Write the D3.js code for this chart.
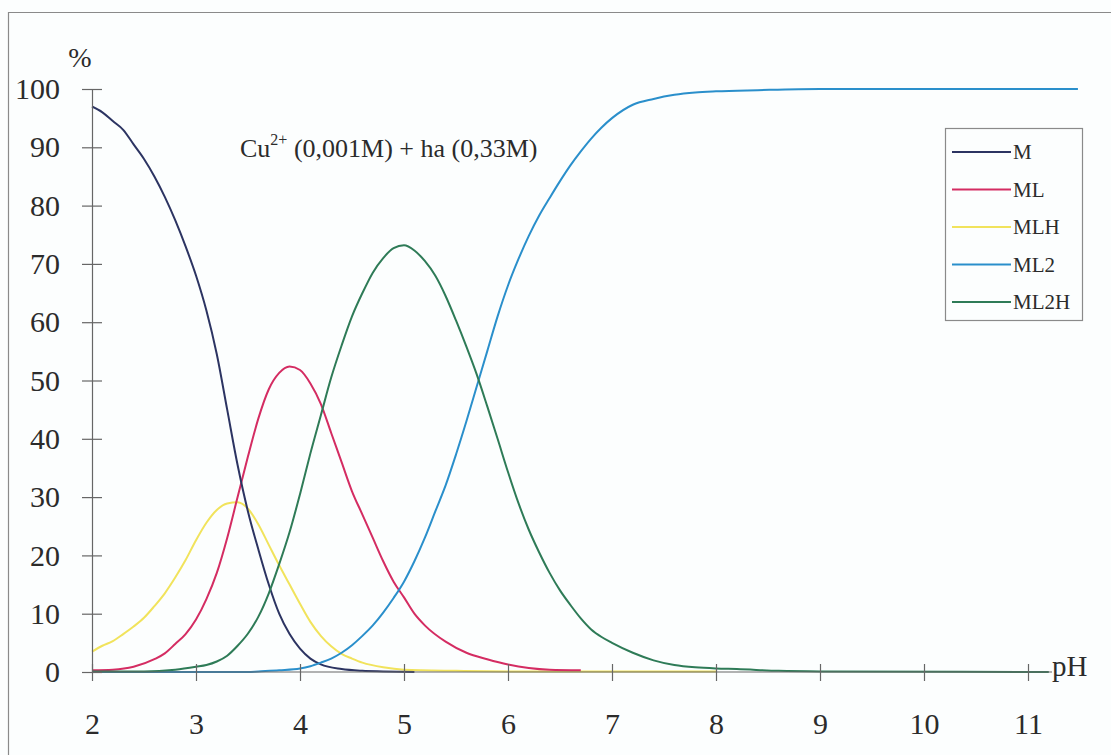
<!DOCTYPE html>
<html>
<head>
<meta charset="utf-8">
<script src="https://cdn.jsdelivr.net/npm/d3@7"></script>
<style>
  html, body { margin: 0; padding: 0; background: #fcfefe; }
  svg { display: block; }
  svg text { font-family: "Liberation Serif", "Times New Roman", serif; fill: #2b2b2b; }
</style>
</head>
<body>
<svg id="chart" width="1111" height="755"></svg>
<script>
// Cu(II) speciation with humic acid: % of each species vs pH
const species = ["M", "ML", "MLH", "ML2", "ML2H"];
const colors = ["#2c3462", "#d42c62", "#f1e35c", "#2a8fcb", "#2e7b57"];

const pH_M = [2.0, 2.1, 2.2, 2.3, 2.4, 2.5, 2.6, 2.7, 2.8, 2.9, 3.0, 3.1, 3.2, 3.3, 3.4, 3.5, 3.6, 3.7, 3.8, 3.9, 4.0, 4.1, 4.2, 4.4, 4.6, 4.8, 5.1];
const val_M = [97, 96, 94.5, 93, 90.5, 88, 85, 81.5, 77.5, 73, 68, 62, 54.5, 45, 35.5, 27.5, 21, 15, 10, 6.5, 4, 2.3, 1.3, 0.5, 0.2, 0.1, 0];

const pH_ML = [2.0, 2.2, 2.4, 2.6, 2.7, 2.8, 2.9, 3.0, 3.1, 3.2, 3.3, 3.4, 3.5, 3.6, 3.7, 3.8, 3.9, 4.0, 4.1, 4.2, 4.3, 4.4, 4.5, 4.6, 4.7, 4.8, 4.9, 5.0, 5.1, 5.2, 5.4, 5.6, 5.8, 6.0, 6.2, 6.4, 6.7];
const val_ML = [0.3, 0.4, 0.9, 2.2, 3.2, 4.8, 6.5, 9, 12.5, 17, 23, 30, 37, 43.5, 48.5, 51.3, 52.4, 51.8, 49.5, 46, 41, 36, 31, 27, 23, 19, 15.5, 12.8, 10, 8, 5.2, 3.3, 2.2, 1.3, 0.7, 0.4, 0.3];

const pH_MLH = [2.0, 2.1, 2.2, 2.3, 2.4, 2.5, 2.6, 2.7, 2.8, 2.9, 3.0, 3.1, 3.2, 3.3, 3.4, 3.5, 3.6, 3.7, 3.8, 3.9, 4.0, 4.1, 4.2, 4.3, 4.4, 4.5, 4.6, 4.8, 5.0, 5.5, 6.0, 7.0, 8.0];
const val_MLH = [3.5, 4.5, 5.3, 6.5, 7.8, 9.3, 11.3, 13.5, 16.2, 19.2, 22.6, 25.6, 27.8, 28.9, 29.1, 28, 25.3, 21.8, 18.3, 15, 11.7, 8.6, 6.2, 4.4, 3.1, 2.3, 1.6, 0.8, 0.4, 0.2, 0.1, 0.1, 0.1];

const pH_ML2 = [2.0, 3.5, 3.6, 3.8, 4.0, 4.1, 4.2, 4.3, 4.4, 4.5, 4.6, 4.7, 4.8, 4.9, 5.0, 5.1, 5.2, 5.3, 5.4, 5.5, 5.6, 5.7, 5.8, 5.9, 6.0, 6.1, 6.2, 6.3, 6.4, 6.5, 6.6, 6.7, 6.8, 6.9, 7.0, 7.2, 7.4, 7.6, 7.8, 8.0, 8.4, 9.0, 11.48];
const val_ML2 = [0, 0, 0.1, 0.3, 0.6, 1, 1.6, 2.3, 3.3, 4.6, 6.2, 8, 10.2, 12.7, 15.5, 19, 23, 27.5, 32, 37.3, 43, 49, 55, 61, 66.3, 70.8, 74.8, 78.3, 81.3, 84.2, 86.9, 89.3, 91.5, 93.4, 95, 97.3, 98.3, 99, 99.4, 99.6, 99.8, 100, 100];

const pH_ML2H = [2.0, 2.5, 2.8, 3.0, 3.1, 3.2, 3.3, 3.4, 3.5, 3.6, 3.7, 3.8, 3.9, 4.0, 4.1, 4.2, 4.3, 4.4, 4.5, 4.6, 4.7, 4.8, 4.9, 5.0, 5.1, 5.2, 5.3, 5.4, 5.5, 5.6, 5.7, 5.8, 5.9, 6.0, 6.1, 6.2, 6.3, 6.4, 6.5, 6.6, 6.7, 6.8, 6.9, 7.0, 7.2, 7.4, 7.6, 7.8, 8.0, 8.2, 8.6, 9.0, 11.2];
const val_ML2H = [0.1, 0.1, 0.4, 0.9, 1.2, 1.8, 2.8, 4.5, 6.6, 9.5, 13.5, 18.5, 24, 30.5, 37.5, 44, 50.5, 56, 61, 65, 68.5, 71, 72.7, 73.2, 72.3, 70.5, 68, 64.5, 60.3, 55.8, 51, 45.6, 40, 34.3, 29, 24.4, 20.5, 17, 14, 11.5, 9.2, 7.3, 6, 5, 3.3, 2, 1.2, 0.8, 0.6, 0.5, 0.2, 0.1, 0];

const xTicks = [2, 3, 4, 5, 6, 7, 8, 9, 10, 11];
const yTicks = [0, 10, 20, 30, 40, 50, 60, 70, 80, 90, 100];

const seriesX = [pH_M, pH_ML, pH_MLH, pH_ML2, pH_ML2H];
const seriesY = [val_M, val_ML, val_MLH, val_ML2, val_ML2H];

const SERIF = "'Liberation Serif', 'Times New Roman', serif";
const svg = d3.select("#chart");

// outer frame
svg.append("path")
  .attr("d", "M8.5,755 V12.5 H1111")
  .attr("fill", "none")
  .attr("stroke", "#8a8a8a")
  .attr("stroke-width", 1.2);

const x = d3.scaleLinear().domain([2, 11]).range([92, 1028]);
const y = d3.scaleLinear().domain([0, 100]).range([672, 89]);

// series lines
const line = d3.line()
  .x(d => x(d[0]))
  .y(d => y(d[1]))
  .curve(d3.curveMonotoneX);

const order = [2, 1, 0, 3, 4];
order.forEach(i => {
  const pts = seriesX[i].map((v, k) => [v, seriesY[i][k]]);
  svg.append("path")
    .datum(pts)
    .attr("d", line)
    .attr("fill", "none")
    .attr("stroke", colors[i])
    .attr("stroke-width", 2)
    .attr("stroke-linejoin", "round");
});

// y axis
const yAxis = svg.append("g")
  .attr("transform", `translate(${x(2)},0)`)
  .call(d3.axisLeft(y).tickValues(yTicks).tickSize(10).tickSizeOuter(0).tickPadding(22));
yAxis.attr("font-family", SERIF).attr("font-size", 30);
yAxis.select(".domain").attr("stroke", "#666").attr("stroke-width", 1.2);
yAxis.selectAll(".tick line").attr("x1", 10).attr("stroke", "#666").attr("stroke-width", 1.2);
yAxis.selectAll(".tick text")
  .attr("font-family", SERIF)
  .style("font-family", SERIF)
  .style("font-size", "30px")
  .attr("fill", "#2b2b2b");

// x axis along y = 0
const xAxis = svg.append("g")
  .attr("transform", `translate(0,${y(0)})`)
  .call(d3.axisBottom(x).tickValues(xTicks).tickSize(9).tickSizeOuter(0).tickPadding(32));
xAxis.attr("font-family", SERIF).attr("font-size", 30);
xAxis.select(".domain").remove();
xAxis.append("line")
  .attr("x1", x(2)).attr("x2", 1052)
  .attr("stroke", "#666").attr("stroke-width", 1.2);
xAxis.selectAll(".tick line").attr("y1", -8).attr("stroke", "#666").attr("stroke-width", 1.2);
xAxis.selectAll(".tick text")
  .attr("font-family", SERIF)
  .style("font-family", SERIF)
  .style("font-size", "30px")
  .attr("fill", "#2b2b2b");

// axis titles
svg.append("text").attr("x", 80).attr("y", 67).attr("text-anchor", "middle")
  .style("font-family", SERIF).style("font-size", "28px").text("%");
svg.append("text").attr("x", 1052).attr("y", 676)
  .style("font-family", SERIF).style("font-size", "29px").text("pH");

// chart title
const title = svg.append("text").attr("x", 240).attr("y", 157)
  .style("font-family", SERIF).style("font-size", "26px");
title.append("tspan").text("Cu");
title.append("tspan").attr("dy", -12).style("font-size", "16px").text("2+");
title.append("tspan").attr("dy", 12).text(" (0,001M) + ha (0,33M)");

// legend
const legend = svg.append("g");
legend.append("rect")
  .attr("x", 945.5).attr("y", 128.5).attr("width", 137).attr("height", 192)
  .attr("fill", "#fcfefe").attr("stroke", "#8a8a8a").attr("stroke-width", 1.2);
species.forEach((name, i) => {
  const ly = 152 + i * 37.5;
  legend.append("line")
    .attr("x1", 952).attr("x2", 1011).attr("y1", ly).attr("y2", ly)
    .attr("stroke", colors[i]).attr("stroke-width", 2.2);
  legend.append("text")
    .attr("x", 1013).attr("y", ly + 7)
    .style("font-family", SERIF)
    .style("font-size", "21px").text(name);
});
</script>
</body>
</html>
